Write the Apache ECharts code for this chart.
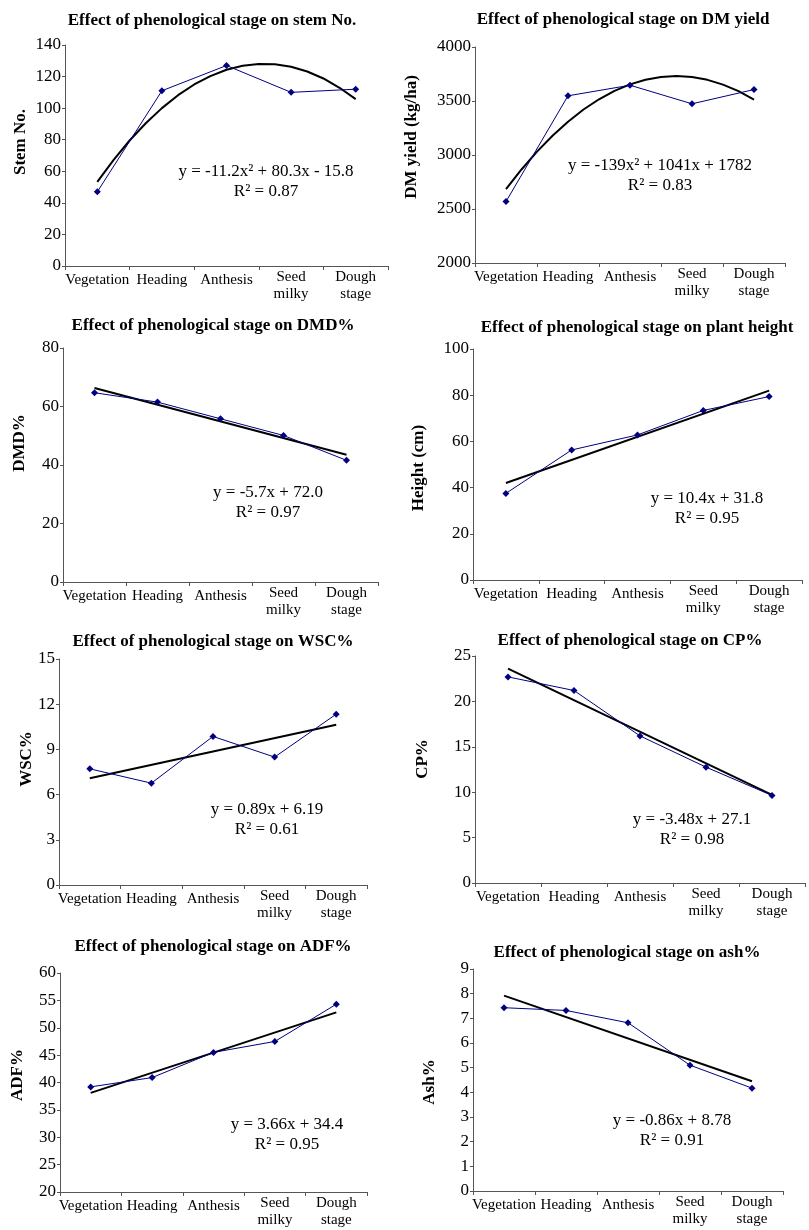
<!DOCTYPE html>
<html>
<head>
<meta charset="utf-8">
<script src="https://cdn.jsdelivr.net/npm/echarts@6/dist/echarts.min.js"></script>
<style>
  html, body { margin: 0; padding: 0; background: #fff; }
  #chart { width: 809px; height: 1230px; }
</style>
</head>
<body>
<div id="chart"></div>
<script>
// categorias del eje x
const stages = ["Vegetation", "Heading", "Anthesis", "Seed\nmilky", "Dough\nstage"];

// valores medidos por etapa
const stemNo = [47, 111, 127, 110, 112];
const dmYield = [2569, 3548, 3646, 3474, 3606];
const dmd = [64.7, 61.5, 55.8, 50.1, 41.6];
const plantHeight = [37.5, 56.3, 62.8, 73.4, 79.4];
const wsc = [7.71, 6.76, 9.86, 8.49, 11.34];
const cp = [22.7, 21.2, 16.2, 12.76, 9.64];
const adf = [39.2, 40.9, 45.5, 47.5, 54.3];
const ash = [7.43, 7.32, 6.82, 5.1, 4.17];

// lineas de tendencia ([x, y], x = 1..5)
const stemTrend = [
  [1, 53.3], [1.25, 67.1], [1.5, 79.5], [1.75, 90.4], [2, 100], [2.25, 108.2], [2.5, 115], [2.75, 120.3],
  [3, 124.3], [3.25, 126.9], [3.5, 128], [3.75, 127.8], [4, 126.2], [4.25, 123.2], [4.5, 118.8], [4.75, 112.9], [5, 105.7],
];
const dmTrend = [
  [1, 2684], [1.25, 2866], [1.5, 3031], [1.75, 3178], [2, 3308], [2.25, 3421], [2.5, 3516], [2.75, 3594],
  [3, 3654], [3.25, 3697], [3.5, 3723], [3.75, 3731], [4, 3722], [4.25, 3696], [4.5, 3652], [4.75, 3591], [5, 3512],
];
const dmdTrend = [[1, 66.3], [5, 43.5]];
const heightTrend = [[1, 42], [5, 82]];
const wscTrend = [[1, 7.08], [5, 10.64]];
const cpTrend = [[1, 23.6], [5, 9.7]];
const adfTrend = [[1, 38.1], [5, 52.8]];
const ashTrend = [[1, 7.92], [5, 4.45]];

// ejes y: [min, max, intervalo]
const yScales = [[0, 140, 20], [2000, 4000, 500], [0, 80, 20], [0, 100, 20], [0, 15, 3], [0, 25, 5], [20, 60, 5], [0, 9, 1]];

const titles = [
  "Effect of phenological stage on stem No.",
  "Effect of phenological stage on DM yield",
  "Effect of phenological stage on DMD%",
  "Effect of phenological stage on plant height",
  "Effect of phenological stage on WSC%",
  "Effect of phenological stage on CP%",
  "Effect of phenological stage on ADF%",
  "Effect of phenological stage on ash%",
];
const yNames = ["Stem No.", "DM yield (kg/ha)", "DMD%", "Height (cm)", "WSC%", "CP%", "ADF%", "Ash%"];
const equations = [
  ["y = -11.2x\u00b2 + 80.3x - 15.8", "R\u00b2 = 0.87"],
  ["y = -139x\u00b2 + 1041x + 1782", "R\u00b2 = 0.83"],
  ["y = -5.7x + 72.0", "R\u00b2 = 0.97"],
  ["y = 10.4x + 31.8", "R\u00b2 = 0.95"],
  ["y = 0.89x + 6.19", "R\u00b2 = 0.61"],
  ["y = -3.48x + 27.1", "R\u00b2 = 0.98"],
  ["y = 3.66x + 34.4", "R\u00b2 = 0.95"],
  ["y = -0.86x + 8.78", "R\u00b2 = 0.91"],
];

const values = [stemNo, dmYield, dmd, plantHeight, wsc, cp, adf, ash];
const trends = [stemTrend, dmTrend, dmdTrend, heightTrend, wscTrend, cpTrend, adfTrend, ashTrend];

// layout de cada panel
const grids = [
  [65, 45, 323, 221], [475, 47, 310, 216],
  [63, 348, 315, 234], [473, 349, 329, 231],
  [59, 659, 308, 226], [475, 656, 330, 227],
  [60, 973, 307, 219], [473, 969, 310, 222],
];
const titlePos = [[212, 21], [623, 20], [213, 326], [637, 328], [213, 642], [630, 641], [213, 947], [627, 953]];
const eqPos = [[266, 172], [660, 166], [268, 493], [707, 499], [267, 810], [692, 820], [287, 1125], [672, 1121]];
const yNamePos = [[21, 142], [412, 137], [20, 443], [419, 468], [27, 759], [423, 759], [18, 1075], [430, 1082]];

const FONT = "'Liberation Serif', 'Times New Roman', serif";
const BLUE = "#000080";
const AXIS = "#555";

const chart = echarts.init(document.getElementById("chart"));

const option = {
  animation: false,
  backgroundColor: "#fff",
  textStyle: { fontFamily: FONT },
  grid: [],
  xAxis: [],
  yAxis: [],
  series: [],
  graphic: [],
};

values.forEach((vals, i) => {
  const [l, t, w, h] = grids[i];
  const [yMin, yMax, yStep] = yScales[i];
  option.grid.push({ left: l, top: t, width: w, height: h, containLabel: false });

  option.xAxis.push({
    type: "category",
    gridIndex: i,
    data: stages,
    boundaryGap: true,
    axisLine: { lineStyle: { color: AXIS, width: 1 } },
    axisTick: { show: true, length: 4, lineStyle: { color: AXIS } },
    axisLabel: {
      interval: 0,
      margin: 3,
      color: "#000",
      fontFamily: FONT,
      fontSize: 15,
      lineHeight: 17,
      formatter: (v) => (v.indexOf("\n") >= 0 ? v : "{s|" + v + "}"),
      rich: { s: { fontFamily: FONT, fontSize: 15, color: "#000", padding: [6, 0, 0, 0] } },
    },
    splitLine: { show: false },
  });
  option.xAxis.push({
    type: "value",
    gridIndex: i,
    min: 0.5,
    max: 5.5,
    show: false,
  });

  option.yAxis.push({
    type: "value",
    gridIndex: i,
    min: yMin,
    max: yMax,
    interval: yStep,
    axisLine: { show: true, lineStyle: { color: AXIS, width: 1 } },
    axisTick: { show: true, length: 3, lineStyle: { color: AXIS } },
    axisLabel: { color: "#000", fontFamily: FONT, fontSize: 17, margin: 4, formatter: (v) => String(v) },
    splitLine: { show: false },
  });

  option.series.push({
    type: "line",
    xAxisIndex: i * 2,
    yAxisIndex: i,
    data: vals,
    symbol: "diamond",
    symbolSize: 7,
    lineStyle: { color: BLUE, width: 1 },
    itemStyle: { color: BLUE },
    z: 3,
  });
  option.series.push({
    type: "line",
    xAxisIndex: i * 2 + 1,
    yAxisIndex: i,
    data: trends[i],
    symbol: "none",
    lineStyle: { color: "#000", width: 2 },
    z: 2,
  });

  option.graphic.push({
    type: "text",
    x: titlePos[i][0],
    y: titlePos[i][1],
    style: { text: titles[i], font: "bold 17px " + FONT, fill: "#000", align: "center", verticalAlign: "middle" },
  });
  option.graphic.push({
    type: "text",
    x: yNamePos[i][0],
    y: yNamePos[i][1],
    rotation: Math.PI / 2,
    style: { text: yNames[i], font: "bold 17px " + FONT, fill: "#000", align: "center", verticalAlign: "middle" },
  });
  option.graphic.push({
    type: "text",
    x: eqPos[i][0],
    y: eqPos[i][1],
    style: { text: equations[i][0], font: "17px " + FONT, fill: "#000", align: "center", verticalAlign: "middle" },
  });
  option.graphic.push({
    type: "text",
    x: eqPos[i][0],
    y: eqPos[i][1] + 20,
    style: { text: equations[i][1], font: "17px " + FONT, fill: "#000", align: "center", verticalAlign: "middle" },
  });
});

chart.setOption(option);
</script>
</body>
</html>
